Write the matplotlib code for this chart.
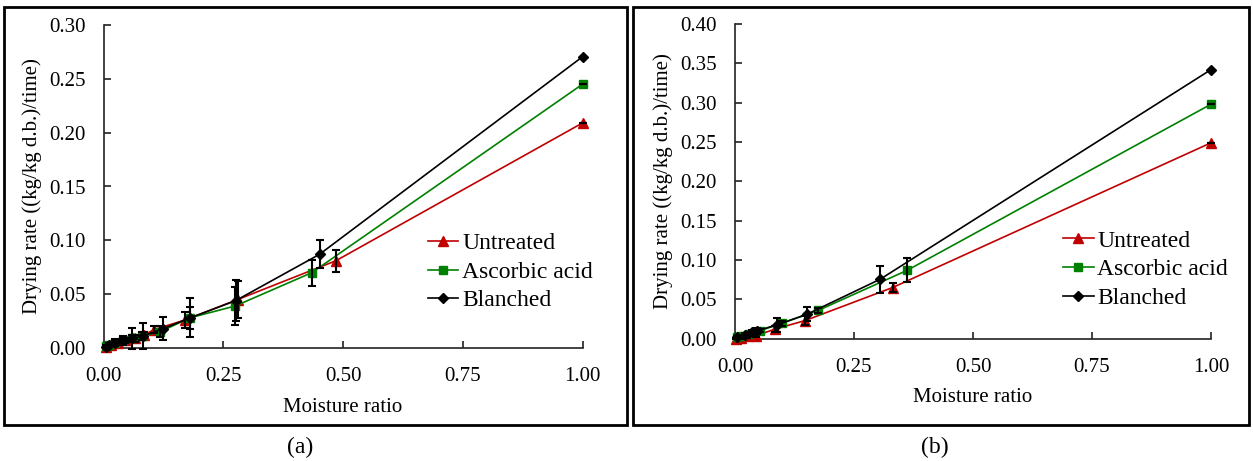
import matplotlib
matplotlib.use("Agg")
import matplotlib.pyplot as plt
from matplotlib.patches import Rectangle
from matplotlib.ticker import FormatStrFormatter, MultipleLocator

plt.rcParams['font.family'] = ['Liberation Serif', 'DejaVu Serif']

# ---------------- data: panel (a) ----------------
a_untreated_x = [0.005, 0.015, 0.03, 0.045, 0.065, 0.085, 0.105, 0.17, 0.28, 0.485, 1.0]
a_untreated_y = [0.001, 0.003, 0.005, 0.007, 0.009, 0.012, 0.017, 0.026, 0.045, 0.081, 0.209]
a_untreated_e = [0.001, 0.001, 0.002, 0.002, 0.003, 0.003, 0.003, 0.007, 0.017, 0.010, 0.0]

a_ascorbic_x = [0.005, 0.012, 0.025, 0.04, 0.06, 0.08, 0.118, 0.18, 0.275, 0.435, 1.0]
a_ascorbic_y = [0.002, 0.003, 0.005, 0.007, 0.009, 0.011, 0.015, 0.028, 0.039, 0.070, 0.245]
a_ascorbic_e = [0.001, 0.001, 0.002, 0.002, 0.003, 0.004, 0.005, 0.010, 0.018, 0.012, 0.0]

a_blanched_x = [0.005, 0.012, 0.025, 0.04, 0.059, 0.082, 0.125, 0.181, 0.276, 0.451, 1.0]
a_blanched_y = [0.001, 0.003, 0.005, 0.007, 0.009, 0.011, 0.018, 0.028, 0.044, 0.087, 0.2705]
a_blanched_e = [0.001, 0.002, 0.003, 0.004, 0.010, 0.012, 0.011, 0.018, 0.019, 0.013, 0.0]

# ---------------- data: panel (b) ----------------
b_untreated_x = [0.003, 0.013, 0.025, 0.045, 0.083, 0.147, 0.331, 1.0]
b_untreated_y = [0.000, 0.001, 0.003, 0.004, 0.012, 0.023, 0.065, 0.249]
b_untreated_e = [0.001, 0.001, 0.002, 0.002, 0.004, 0.006, 0.006, 0.0]

b_ascorbic_x = [0.005, 0.013, 0.03, 0.052, 0.098, 0.175, 0.362, 1.0]
b_ascorbic_y = [0.002, 0.003, 0.006, 0.010, 0.0196, 0.036, 0.087, 0.298]
b_ascorbic_e = [0.001, 0.001, 0.002, 0.002, 0.003, 0.003, 0.015, 0.0]

b_blanched_x = [0.005, 0.021, 0.035, 0.0455, 0.0875, 0.151, 0.305, 1.0]
b_blanched_y = [0.002, 0.005, 0.008, 0.010, 0.0174, 0.031, 0.0756, 0.342]
b_blanched_e = [0.001, 0.002, 0.003, 0.004, 0.009, 0.009, 0.017, 0.0]

series_names = ["Untreated", "Ascorbic acid", "Blanched"]
x_ticks = [0.00, 0.25, 0.50, 0.75, 1.00]
x_label = "Moisture ratio"
y_label = "Drying rate ((kg/kg d.b.)/time)"

colors = ["#C00000", "#008000", "#000000"]
markers = ["^", "s", "D"]
msizes = [7, 5.5, 5]

W, H = 1253, 461
fig = plt.figure(figsize=(W / 100, H / 100), dpi=100)

# panel borders
fig.add_artist(Rectangle((4 / W, 1 - 425 / H), 623 / W, 418 / H, transform=fig.transFigure,
                         fill=False, lw=2, ec="black"))
fig.add_artist(Rectangle((633 / W, 1 - 425 / H), 616 / W, 418 / H, transform=fig.transFigure,
                         fill=False, lw=2, ec="black"))

def panel(rect, data, ymax, leg_anchor):
    ax = fig.add_axes(rect)
    for (xs, ys, es), name, c, m, ms in zip(data, series_names, colors, markers, msizes):
        ax.plot(xs, ys, color=c, lw=1.2, marker=m, ms=ms, mfc=c, mec=c, label=name,
                zorder=3, clip_on=False)
        ax.errorbar(xs, ys, yerr=es, fmt="none", ecolor="black", elinewidth=1.5,
                    capsize=3, capthick=1.5, zorder=4, clip_on=False)
    ax.set_xlim(0, 1.0)
    ax.set_ylim(0, ymax)
    ax.set_xticks(x_ticks)
    ax.yaxis.set_major_locator(MultipleLocator(0.05))
    ax.xaxis.set_major_formatter(FormatStrFormatter("%.2f"))
    ax.yaxis.set_major_formatter(FormatStrFormatter("%.2f"))
    for s in ["top", "right"]:
        ax.spines[s].set_visible(False)
    for s in ["left", "bottom"]:
        ax.spines[s].set_linewidth(1.2)
        ax.spines[s].set_color("#222222")
    ax.tick_params(direction="in", length=5, width=1.2, labelsize=15, color="#222222")
    ax.tick_params(axis="y", pad=13)
    ax.tick_params(axis="x", pad=14)
    ax.set_xlabel(x_label, fontsize=15, labelpad=8)
    ax.set_ylabel(y_label, fontsize=15, labelpad=5)
    ax.legend(loc="upper left", bbox_to_anchor=leg_anchor, frameon=False, fontsize=17,
              handlelength=1.3, handletextpad=0.15, labelspacing=0.3, borderaxespad=0,
              borderpad=0)
    return ax

ax_a = panel([103.5 / W, 1 - 348 / H, 479 / W, 323 / H],
             [(a_untreated_x, a_untreated_y, a_untreated_e),
              (a_ascorbic_x, a_ascorbic_y, a_ascorbic_e),
              (a_blanched_x, a_blanched_y, a_blanched_e)],
             0.30, (0.677, 0.357))
ax_b = panel([735 / W, 1 - 338.7 / H, 476 / W, 314.7 / H],
             [(b_untreated_x, b_untreated_y, b_untreated_e),
              (b_ascorbic_x, b_ascorbic_y, b_ascorbic_e),
              (b_blanched_x, b_blanched_y, b_blanched_e)],
             0.40, (0.689, 0.345))

fig.text(300 / W, 1 - 447 / H, "(a)", ha="center", va="center", fontsize=17)
fig.text(935 / W, 1 - 447 / H, "(b)", ha="center", va="center", fontsize=17)

fig.savefig("out.png", dpi=100)
